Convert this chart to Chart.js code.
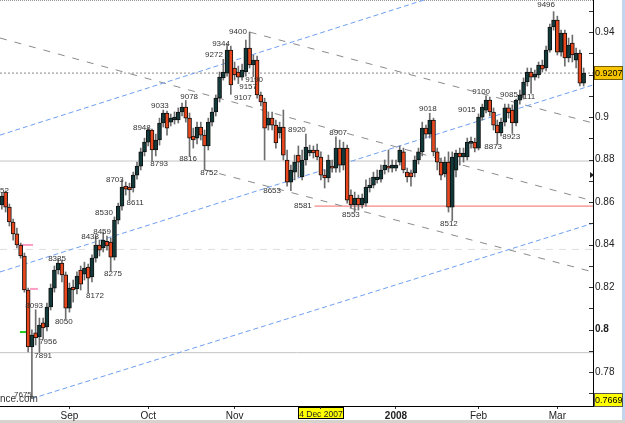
<!DOCTYPE html>
<html>
<head>
<meta charset="utf-8">
<script src="https://cdn.jsdelivr.net/npm/chart.js@4.4.1/dist/chart.umd.min.js"></script>
<style>
  html, body { margin: 0; padding: 0; background: #fff; }
</style>
</head>
<body>
<canvas id="c" width="625" height="423"></canvas>
<script>
// daily candles, one per trading day
const open = [
  0.8586, 0.8647, 0.8576, 0.8506, 0.8450, 0.8398, 0.8346, 0.8186, 0.7918, 0.7984,
  0.7965, 0.8031, 0.8012, 0.8106, 0.8195, 0.8280, 0.8313, 0.8257, 0.8101, 0.8200,
  0.8191, 0.8280, 0.8261, 0.8294, 0.8247, 0.8336, 0.8398, 0.8384, 0.8415, 0.8412,
  0.8341, 0.8515, 0.8581, 0.8675, 0.8671, 0.8666, 0.8727, 0.8769, 0.8836, 0.8882,
  0.8939, 0.8845, 0.8892, 0.8972, 0.9019, 0.8976, 0.8986, 0.8986, 0.9024, 0.9047,
  0.8995, 0.8911, 0.8901, 0.8953, 0.8915, 0.8864, 0.8976, 0.9024, 0.9089, 0.9184,
  0.9207, 0.9315, 0.9231, 0.9212, 0.9188, 0.9212, 0.9325, 0.9245, 0.9268, 0.9104,
  0.9071, 0.8962, 0.8995, 0.8962, 0.8925, 0.8953, 0.8798, 0.8694, 0.8741, 0.8821,
  0.8718, 0.8798, 0.8831, 0.8845, 0.8845, 0.8812, 0.8727, 0.8713, 0.8769, 0.8760,
  0.8854, 0.8774, 0.8854, 0.8633, 0.8586, 0.8619, 0.8586, 0.8595, 0.8666, 0.8680,
  0.8704, 0.8708, 0.8751, 0.8769, 0.8760, 0.8760, 0.8788, 0.8836, 0.8741, 0.8737,
  0.8737, 0.8798, 0.8836, 0.8948, 0.8920, 0.8986, 0.8836, 0.8788, 0.8732, 0.8788,
  0.8576, 0.8750, 0.8831, 0.8812, 0.8812, 0.8876, 0.8882, 0.8854, 0.9000, 0.9033,
  0.9080, 0.9024, 0.8962, 0.8925, 0.8976, 0.9043, 0.9033, 0.8972, 0.9080, 0.9104,
  0.9165, 0.9212, 0.9188, 0.9198, 0.9245, 0.9231, 0.9315, 0.9424, 0.9457, 0.9306,
  0.9395, 0.9278, 0.9348, 0.9268, 0.9301, 0.9160
];
const high = [
  0.8645, 0.8652, 0.8591, 0.8520, 0.8478, 0.8407, 0.8360, 0.8195, 0.7998, 0.8093,
  0.8054, 0.8054, 0.8125, 0.8214, 0.8299, 0.8335, 0.8327, 0.8271, 0.8219, 0.8233,
  0.8271, 0.8299, 0.8317, 0.8308, 0.8351, 0.8438, 0.8421, 0.8459, 0.8440, 0.8431,
  0.8530, 0.8595, 0.8703, 0.8694, 0.8689, 0.8741, 0.8788, 0.8854, 0.8901, 0.8948,
  0.8944, 0.8920, 0.8995, 0.9033, 0.9028, 0.9014, 0.9024, 0.9043, 0.9066, 0.9078,
  0.9019, 0.8948, 0.8976, 0.8976, 0.8939, 0.8995, 0.9043, 0.9104, 0.9212, 0.9272,
  0.9344, 0.9334, 0.9259, 0.9240, 0.9249, 0.9362, 0.9400, 0.9292, 0.9287, 0.9118,
  0.9089, 0.9024, 0.9024, 0.8986, 0.8976, 0.9033, 0.8845, 0.8774, 0.8821, 0.8864,
  0.8845, 0.8920, 0.8868, 0.8864, 0.8873, 0.8836, 0.8751, 0.8821, 0.8798, 0.8907,
  0.8892, 0.8882, 0.8868, 0.8657, 0.8647, 0.8633, 0.8638, 0.8704, 0.8713, 0.8741,
  0.8751, 0.8774, 0.8798, 0.8845, 0.8798, 0.8798, 0.8864, 0.8854, 0.8760, 0.8751,
  0.8817, 0.8854, 0.8976, 0.8962, 0.9018, 0.8995, 0.8854, 0.8807, 0.8812, 0.8836,
  0.8836, 0.8845, 0.8854, 0.8854, 0.8901, 0.8906, 0.8901, 0.9015, 0.9061, 0.9100,
  0.9094, 0.9043, 0.8986, 0.8995, 0.9061, 0.9061, 0.9057, 0.9085, 0.9127, 0.9184,
  0.9231, 0.9231, 0.9221, 0.9259, 0.9268, 0.9334, 0.9438, 0.9496, 0.9475, 0.9409,
  0.9409, 0.9372, 0.9386, 0.9325, 0.9315, 0.9231
];
const low = [
  0.8567, 0.8553, 0.8487, 0.8421, 0.8384, 0.8336, 0.8176, 0.7894, 0.7675, 0.7927,
  0.7891, 0.7956, 0.7993, 0.8092, 0.8176, 0.8261, 0.8224, 0.8050, 0.8082, 0.8129,
  0.8167, 0.8186, 0.8233, 0.8172, 0.8224, 0.8317, 0.8346, 0.8365, 0.8374, 0.8275,
  0.8327, 0.8497, 0.8562, 0.8633, 0.8611, 0.8647, 0.8708, 0.8751, 0.8817, 0.8864,
  0.8793, 0.8817, 0.8868, 0.8953, 0.8915, 0.8958, 0.8967, 0.8972, 0.9005, 0.8976,
  0.8816, 0.8854, 0.8873, 0.8892, 0.8752, 0.8845, 0.8958, 0.9005, 0.9071, 0.9174,
  0.9193, 0.9107, 0.9174, 0.9157, 0.9174, 0.9193, 0.9231, 0.9190, 0.9089, 0.9052,
  0.8798, 0.8939, 0.8939, 0.8854, 0.8901, 0.8798, 0.8675, 0.8653, 0.8704, 0.8718,
  0.8704, 0.8774, 0.8817, 0.8807, 0.8798, 0.8704, 0.8666, 0.8694, 0.8741, 0.8741,
  0.8741, 0.8751, 0.8595, 0.8572, 0.8553, 0.8562, 0.8572, 0.8581, 0.8647, 0.8666,
  0.8689, 0.8694, 0.8732, 0.8741, 0.8741, 0.8746, 0.8774, 0.8737, 0.8694, 0.8675,
  0.8718, 0.8779, 0.8817, 0.8901, 0.8901, 0.8817, 0.8751, 0.8704, 0.8718, 0.8553,
  0.8512, 0.8718, 0.8774, 0.8788, 0.8798, 0.8854, 0.8836, 0.8845, 0.8986, 0.9019,
  0.9005, 0.8939, 0.8873, 0.8911, 0.8958, 0.8995, 0.8923, 0.8958, 0.9061, 0.9085,
  0.9146, 0.9111, 0.9174, 0.9184, 0.9212, 0.9217, 0.9306, 0.9409, 0.9292, 0.9287,
  0.9240, 0.9259, 0.9259, 0.9231, 0.9146, 0.9146
];
const close = [
  0.8628, 0.8576, 0.8506, 0.8450, 0.8398, 0.8346, 0.8186, 0.7918, 0.7974, 0.7960,
  0.8021, 0.8007, 0.8106, 0.8195, 0.8280, 0.8313, 0.8257, 0.8101, 0.8195, 0.8186,
  0.8252, 0.8214, 0.8289, 0.8242, 0.8336, 0.8398, 0.8374, 0.8421, 0.8393, 0.8341,
  0.8515, 0.8581, 0.8671, 0.8661, 0.8657, 0.8727, 0.8769, 0.8836, 0.8882, 0.8939,
  0.8845, 0.8892, 0.8972, 0.9019, 0.8948, 0.8995, 0.9000, 0.9024, 0.9047, 0.8995,
  0.8901, 0.8892, 0.8953, 0.8915, 0.8864, 0.8976, 0.9024, 0.9089, 0.9188, 0.9212,
  0.9315, 0.9151, 0.9198, 0.9188, 0.9221, 0.9325, 0.9245, 0.9268, 0.9104, 0.9071,
  0.8948, 0.8995, 0.8962, 0.8878, 0.8953, 0.8821, 0.8694, 0.8751, 0.8788, 0.8788,
  0.8798, 0.8859, 0.8845, 0.8831, 0.8812, 0.8727, 0.8713, 0.8798, 0.8760, 0.8854,
  0.8774, 0.8854, 0.8609, 0.8586, 0.8619, 0.8586, 0.8619, 0.8671, 0.8680, 0.8718,
  0.8718, 0.8751, 0.8774, 0.8760, 0.8774, 0.8774, 0.8845, 0.8751, 0.8718, 0.8718,
  0.8798, 0.8836, 0.8948, 0.8920, 0.8986, 0.8836, 0.8788, 0.8727, 0.8788, 0.8576,
  0.8812, 0.8831, 0.8812, 0.8831, 0.8882, 0.8884, 0.8854, 0.9000, 0.9047, 0.9080,
  0.9024, 0.8962, 0.8925, 0.8976, 0.9043, 0.9019, 0.8972, 0.9080, 0.9104, 0.9165,
  0.9212, 0.9188, 0.9202, 0.9245, 0.9226, 0.9315, 0.9424, 0.9457, 0.9306, 0.9395,
  0.9278, 0.9339, 0.9292, 0.9301, 0.9160, 0.9207
];
const slots = 158; // trading-day slots across the plot (last two empty)

// x axis labels: slot index -> text
const tickIdx = [18, 39, 62, 85, 105, 127, 148];
const tickText = ['Sep', 'Oct', 'Nov', '4 Dec 2007', '2008', 'Feb', 'Mar'];

// labelled highs and lows: slot where the text sits, price, side
const noteIdx = [-0.5, 8.6, 5.6, 11, 12.3, 16.5, 14.7, 24.8, 23.5, 26.7,
  27.2, 29.6, 30.1, 35.5, 37.3, 41.9, 42.1, 49.9, 49.6, 55.2,
  56.5, 58.4, 64.2, 65.6, 62.9, 67.2, 72, 78.6, 89.6, 93,
  80.2, 113.5, 119.1, 123.9, 127.7, 130.9, 135.7, 135.1, 139.9, 145];
const noteVal = [0.8652, 0.8093, 0.7675, 0.7891, 0.7956, 0.8050, 0.8335, 0.8172, 0.8438, 0.8459,
  0.8530, 0.8275, 0.8703, 0.8611, 0.8948, 0.8793, 0.9033, 0.9078, 0.8816, 0.8752,
  0.9272, 0.9344, 0.9107, 0.9157, 0.9400, 0.9190, 0.8653, 0.8920, 0.8907, 0.8553,
  0.8581, 0.9018, 0.8512, 0.9015, 0.9100, 0.8873, 0.8923, 0.9085, 0.9111, 0.9496];
const noteSide = ['mid', 'hi', 'hi', 'lo', 'lo', 'lo', 'mid', 'lo', 'mid', 'mid',
  'hi', 'lo', 'mid', 'lo', 'mid', 'lo', 'hi', 'hi', 'lo', 'lo',
  'hi', 'mid', 'lo', 'lo', 'mid', 'lo', 'mid', 'hi', 'hi', 'lo',
  'mid', 'hi', 'lo', 'hi', 'hi', 'lo', 'lo', 'hi', 'lo', 'top'];

// trendlines: [slot1, price1, slot2, price2]
const blueLines = [
  [-0.5, 0.8915, 113, 0.9554],
  [-0.5, 0.8271, 157.5, 0.9151],
  [8, 0.7675, 157.5, 0.8500]
];
const grayLines = [
  [-0.5, 0.9372, 157.5, 0.8605],
  [66, 0.9400, 157.5, 0.8972],
  [54, 0.8752, 157.5, 0.8271]
];
const solidLevels = [0.8793, 0.7891];
const lastPrice = 0.9207;
const lowPrice = 0.7669;
const dashLevel = 0.8377;
const redLevel = [83.3, 0.8581];
// small marks near the August low: [slot1, slot2, price]
const pinkMarks = [[5.1, 8.3, 0.8398], [7.5, 9.6, 0.8191]];
const greenMarks = [[4.8, 7.5, 0.7988]];

const RED = '#e8461c', DARK = '#133a3a';
const idx = open.map((_, i) => i);

function seg(x1, y1, x2, y2, color, dash, width) {
  return {
    type: 'line', data: [{x: x1, y: y1}, {x: x2, y: y2}],
    borderColor: color, borderWidth: width || 1, borderDash: dash || [],
    pointRadius: 0, fill: false, order: 5
  };
}

const lineSets = [];
blueLines.forEach(l => lineSets.push(seg(l[0], l[1], l[2], l[3], '#6f9ff2', [5, 3])));
grayLines.forEach(l => lineSets.push(seg(l[0], l[1], l[2], l[3], '#8a8a8a', [7, 8])));
solidLevels.forEach(v => lineSets.push(seg(-0.5, v, 157.5, v, '#c4c4c4')));
lineSets.push(seg(-0.5, lastPrice, 157.5, lastPrice, '#8a8a8a', [2, 2]));
lineSets.push(seg(-0.5, dashLevel, 157.5, dashLevel, '#dedede', [7, 6]));
lineSets.push(seg(redLevel[0], redLevel[1], 157.5, redLevel[1], '#f06a6a'));
pinkMarks.forEach(m => lineSets.push(seg(m[0], m[2], m[1], m[2], '#ff9cc4', [], 2)));
greenMarks.forEach(m => lineSets.push(seg(m[0], m[2], m[1], m[2], '#22cc22', [], 2)));

const FONT = 'Liberation Sans, Arial, sans-serif';

const extras = {
  id: 'extras',
  beforeDraw(chart) {
    const c = chart.ctx, x = chart.scales.x;
    c.save();
    c.fillStyle = '#d6d3ce';
    c.fillRect(0, 420, 625, 3);
    c.fillStyle = '#c3d5ee';
    c.fillRect(622, 0, 3, 420);
    c.strokeStyle = '#9a9a9a';
    c.setLineDash([1, 1]);
    c.beginPath(); c.moveTo(0, 0.5); c.lineTo(593, 0.5); c.stroke();
    c.setLineDash([]);
    // highlighted date on the x axis
    const px = Math.round(x.getPixelForValue(tickIdx[3]));
    c.fillStyle = '#ffff00';
    c.fillRect(px - 23, 407, 46, 12);
    c.strokeStyle = '#000';
    c.strokeRect(px - 22.5, 407.5, 45, 11);
    c.restore();
  },
  afterDatasetsDraw(chart) {
    const c = chart.ctx, x = chart.scales.x, y = chart.scales.y;
    c.save();
    c.font = '8px ' + FONT;
    c.fillStyle = '#333';
    c.textAlign = 'center';
    c.textBaseline = 'middle';
    const dy = {hi: -4, lo: 3, mid: 0, top: -7};
    noteIdx.forEach((n, k) => {
      const txt = String(Math.round(noteVal[k] * 10000));
      c.fillText(txt, x.getPixelForValue(n), y.getPixelForValue(noteVal[k]) + dy[noteSide[k]]);
    });
    c.font = '10px ' + FONT;
    c.textAlign = 'left';
    c.fillText('nce.com', 0, 399);
    c.restore();
  },
  afterDraw(chart) {
    const c = chart.ctx, y = chart.scales.y, a = chart.chartArea;
    c.save();
    // tick marks point into the plot
    c.strokeStyle = '#333';
    y.ticks.forEach(t => {
      const py = Math.round(y.getPixelForValue(t.value)) + 0.5;
      c.beginPath(); c.moveTo(a.right - 4, py); c.lineTo(a.right, py); c.stroke();
    });
    // small marker on the axis
    const my = y.getPixelForValue(0.8727);
    c.fillStyle = '#222';
    c.beginPath(); c.moveTo(a.right - 3, my - 3); c.lineTo(a.right + 1, my); c.lineTo(a.right - 3, my + 3); c.fill();
    // price boxes
    c.font = '9px ' + FONT;
    c.textBaseline = 'middle';
    c.textAlign = 'left';
    const box = (v, bg, edge) => {
      const py = Math.round(y.getPixelForValue(v));
      c.fillStyle = bg;
      c.fillRect(a.right + 1, py - 7, 29, 14);
      c.strokeStyle = edge;
      c.strokeRect(a.right + 1.5, py - 6.5, 28, 13);
      c.fillStyle = '#000';
      c.fillText(v.toFixed(4), a.right + 2, py + 0.5);
    };
    box(lastPrice, '#f6c400', '#7a6000');
    box(lowPrice, '#ffff00', '#555');
    c.restore();
  }
};

new Chart(document.getElementById('c'), {
  type: 'bar',
  data: {
    datasets: [
      {
        type: 'bar',
        data: idx.map(i => ({x: i, y: [open[i], close[i]]})),
        backgroundColor: idx.map(i => close[i] >= open[i] ? DARK : RED),
        borderColor: '#111',
        borderWidth: 1,
        borderSkipped: false,
        barThickness: 4,
        minBarLength: 2,
        grouped: false,
        order: 0
      },
      {
        type: 'bar',
        data: idx.map(i => ({x: i, y: [low[i], high[i]]})),
        backgroundColor: '#6e6e6e',
        barThickness: 1,
        grouped: false,
        order: 1
      },
      ...lineSets
    ]
  },
  options: {
    responsive: false,
    devicePixelRatio: 1,
    animation: false,
    layout: { padding: 0 },
    plugins: { legend: { display: false }, tooltip: { enabled: false } },
    scales: {
      x: {
        type: 'linear',
        min: -0.5,
        max: slots - 0.5,
        offset: false,
        grid: { drawOnChartArea: false, offset: false, tickLength: 3, color: '#333' },
        border: { color: '#000' },
        afterBuildTicks: s => { s.ticks = tickIdx.map(v => ({ value: v })); },
        afterFit: s => { s.height = 17; s.paddingLeft = 0; s.paddingRight = 0; },
        ticks: {
          autoSkip: false,
          maxRotation: 0,
          padding: 1,
          color: '#222',
          font: ctx => {
            const v = ctx.tick ? ctx.tick.value : null;
            return { family: FONT, size: v === tickIdx[3] ? 8.5 : 10, weight: v === tickIdx[4] ? 'bold' : 'normal' };
          },
          callback: v => { const k = tickIdx.indexOf(v); return k < 0 ? '' : tickText[k]; }
        }
      },
      y: {
        type: 'linear',
        position: 'right',
        min: 0.764,
        max: 0.9551,
        beginAtZero: false,
        grid: { drawOnChartArea: false, drawTicks: false },
        border: { color: '#000' },
        afterFit: s => { s.width = 32; s.paddingTop = 0; s.paddingBottom = 0; },
        ticks: {
          stepSize: 0.01,
          includeBounds: false,
          padding: 2,
          color: '#222',
          font: ctx => ({ family: FONT, size: 10, weight: ctx.tick && Math.round(ctx.tick.value * 100) === 80 ? 'bold' : 'normal' }),
          callback: v => { const h = Math.round(v * 100); return h % 2 === 0 ? String(h / 100) : ''; }
        }
      }
    }
  },
  plugins: [extras]
});
</script>
</body>
</html>
